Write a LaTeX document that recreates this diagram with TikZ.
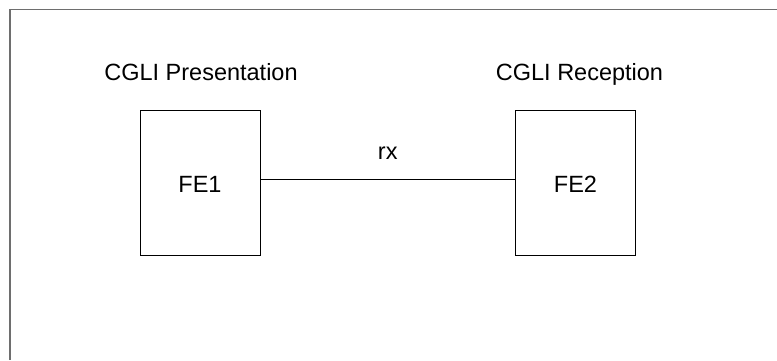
\documentclass[tikz,border=0pt]{standalone}
\usepackage{fontspec}
\setmainfont{Liberation Sans}
\begin{document}
\begin{tikzpicture}[x=1pt,y=1pt,
  every node/.style={font=\fontsize{23.5}{28}\selectfont},
  fe/.style={draw=black, line width=0.9pt, minimum width=120pt, minimum height=145pt,
    inner sep=0pt, text height=19pt, text depth=0pt},
  title/.style={anchor=base, inner sep=0pt},
  frame/.style={draw={rgb,255:red,110;green,110;blue,110}, line width=1.6pt},
  link/.style={draw=black, line width=0.9pt}]
\useasboundingbox (0,0) rectangle (777,-360);
\draw[frame] (10,-360) -- (10,-9.5) -- (777,-9.5);
\node[title] (t1) at (201,-80) {CGLI Presentation};
\node[title] (t2) at (579.5,-80) {CGLI Reception};
\node[fe] (fe1) at (200,-182.5) {FE1};
\node[fe] (fe2) at (575.5,-182.5) {FE2};
\draw[link] (fe1.east |- 0,-179) -- node[anchor=base, yshift=20pt, inner sep=0pt] (rx) {rx} (fe2.west |- 0,-179);
\end{tikzpicture}
\end{document}
